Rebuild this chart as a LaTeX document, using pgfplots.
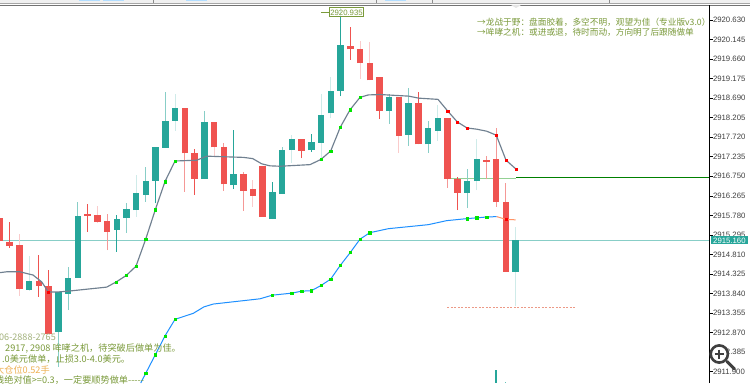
\documentclass[border=0pt]{standalone}
\usepackage{pgfplots}
\usepackage{pgfplotstable}
\usepackage{fontspec}
\pgfplotsset{compat=1.18}
\setmainfont{Liberation Sans}
\newfontfamily\cjk{Noto Sans CJK SC}
\definecolor{up}{HTML}{26A69A}
\definecolor{dn}{HTML}{EF5350}
\definecolor{oli}{HTML}{7A9A3A}
\definecolor{oli2}{HTML}{A3B27C}
\definecolor{org}{HTML}{EDB053}
\definecolor{lin}{HTML}{708090}
\definecolor{blu}{HTML}{1E90FF}
\pgfplotstableread{
i top bot hi lo w
3 2914.16 2913.93 2914.77 2913.91 3
6 2913.87 2912.89 2913.87 2912.02 2
7 2914.23 2913.83 2914.51 2913.43 2
8 2915.77 2914.23 2916.12 2914.23 2
12 2915.69 2915.42 2915.79 2914.88 1
13 2915.93 2915.71 2916.08 2915.35 2
14 2916.34 2915.91 2916.78 2915.75 3
15 2916.63 2916.29 2916.99 2916.12 2
16 2917.49 2916.64 2917.49 2916.08 1
17 2918.12 2917.46 2918.85 2917.46 2
18 2918.44 2918.13 2918.79 2917.88 3
21 2918.09 2916.68 2918.37 2916.68 2
24 2916.81 2916.53 2917.90 2916.43 1
28 2916.35 2915.69 2916.60 2915.69 1
29 2917.40 2916.31 2917.49 2916.31 2
30 2917.68 2917.40 2917.78 2917.09 3
32 2917.60 2917.40 2917.79 2917.36 1
33 2918.27 2917.58 2918.79 2917.16 3
34 2918.87 2918.31 2919.21 2918.19 3
35 2920.01 2918.87 2920.92 2918.74 1
40 2918.71 2918.37 2918.79 2918.05 2
42 2918.56 2917.78 2918.93 2917.51 2
44 2917.94 2917.54 2918.13 2917.34 2
45 2918.20 2917.88 2918.51 2917.63 3
48 2916.63 2916.34 2916.92 2915.96 2
49 2917.18 2916.63 2917.67 2916.41 3
53 2915.16 2914.38 2915.50 2913.53 3
}\tealtable
\pgfplotstableread{
i top bot hi lo w
0 2915.72 2915.15 2915.72 2915.15 1
1 2915.12 2915.02 2915.62 2914.98 1
2 2915.05 2913.95 2915.32 2913.78 3
4 2914.15 2914.04 2914.80 2913.76 1
5 2914.03 2912.84 2914.43 2912.84 1
9 2915.81 2915.77 2916.06 2915.38 1
10 2915.79 2915.62 2916.01 2915.59 3
11 2915.63 2915.38 2915.81 2914.92 2
19 2918.45 2917.32 2918.45 2916.37 2
20 2917.34 2916.68 2917.42 2916.29 1
22 2918.09 2917.47 2918.09 2917.24 3
23 2917.49 2916.55 2917.57 2916.39 2
25 2916.81 2916.39 2916.86 2915.90 2
26 2916.44 2916.27 2916.66 2916.00 3
27 2917.01 2915.75 2917.01 2915.75 1
31 2917.67 2917.38 2917.67 2917.20 1
36 2919.99 2919.90 2920.45 2919.64 1
37 2919.91 2919.56 2920.10 2919.17 3
38 2919.56 2919.13 2920.08 2919.13 3
39 2919.21 2918.38 2919.21 2918.17 1
41 2918.73 2917.76 2918.73 2917.34 3
43 2918.56 2917.54 2918.84 2917.54 1
46 2918.20 2916.68 2918.20 2916.47 2
47 2916.68 2916.34 2916.73 2915.91 1
50 2917.16 2917.11 2917.25 2916.68 2
51 2917.18 2916.11 2917.94 2916.00 2
52 2916.11 2914.38 2916.58 2914.38 2
}\redtable
\pgfplotstableread{
x y
0 2914.36
6.7 2914.38
20 2914.38
33 2914.30
41.7 2914.13
48.3 2913.88
58 2913.88
68.3 2913.90
106.7 2914.00
116.3 2914.13
126.3 2914.29
136 2914.52
145.7 2915.19
155.3 2915.92
165 2916.62
175 2917.13
196.7 2917.15
206.7 2917.25
243.3 2917.22
252.7 2917.19
261.7 2917.06
270 2917.01
280 2917.00
310 2917.04
321 2917.17
330.7 2917.38
340.3 2917.97
350 2918.40
360 2918.71
368.3 2918.77
380 2918.78
408.7 2918.74
418.7 2918.69
438 2918.66
447.7 2918.37
457.3 2918.10
467 2917.95
476.7 2917.92
486.7 2917.87
496.3 2917.77
506 2917.15
516 2916.93
}\graytable
\pgfplotstableread{
x y
140.7 2911.62
145.7 2911.86
155.3 2912.32
165 2912.79
175 2913.20
193.3 2913.35
204 2913.51
213.3 2913.58
260 2913.71
272.3 2913.80
291.7 2913.85
301.7 2913.90
311.3 2913.91
321 2914.04
330.7 2914.20
340.3 2914.54
350.3 2914.86
360 2915.19
369.7 2915.35
388.3 2915.45
428.3 2915.55
446.7 2915.65
467 2915.70
476.7 2915.72
486.7 2915.74
496.7 2915.75
}\bluetable
\newcommand\wicks[3]{\addplot[draw=none,forget plot,mark=none,
  error bars/.cd,y dir=plus,y explicit,error mark=none,
  error bar style={line width=1bp,color=#2}]
  table[x expr={\thisrow{w}==#3 ? \thisrow{i}*9.73 : nan},y=lo,y error expr=\thisrow{hi}-\thisrow{lo}]{#1};}
\newcommand\bodies[2]{\addplot[draw=none,forget plot,mark=none,
  error bars/.cd,y dir=plus,y explicit,error mark=none,
  error bar style={line width=6.5bp,color=#2}]
  table[x expr={\thisrow{i}*9.73},y=bot,y error expr=\thisrow{top}-\thisrow{bot}]{#1};}
\begin{document}
\begin{tikzpicture}[x=1bp,y=1bp]
\path[use as bounding box] (0,0) rectangle (750,383);
\fill[white] (0,0) rectangle (750,383);
% window strip
\fill[black!6] (0,380) rectangle (750,383);
\fill[black!35] (0,379.6) rectangle (750,380.2);
\fill[black!55] (0,377.6) rectangle (750,378.4);
\foreach \a/\b in {79/100,103/124,186/207,385/406}{\fill[blue!45!cyan!30] (\a,382) rectangle (\b,383);}
\foreach \a in {153,376,432,609}{\fill[black!45] (\a,380) rectangle (\a+.8,383);}
\fill[black!10] (511,378) -- (521,378) -- (516,375) -- cycle;
\begin{axis}[at={(0,0)},anchor=south west,scale only axis,width=709.5bp,height=378bp,
  xmin=0,xmax=709.5,ymin=2911.62,ymax=2921.002,clip=false,
  axis lines=none,
  ]
% level lines
\addplot[color=up!55,line width=1bp] coordinates {(0,2915.16) (709.5,2915.16)};
\addplot[color=green!40!gray!60,line width=1bp] coordinates {(447,2916.70) (516,2916.70)};
\addplot[color=green!50!black,line width=1.1bp] coordinates {(516,2916.72) (709.5,2916.72)};
\addplot[color=brown!55!red!55,line width=.8bp,dash pattern=on 2bp off 1.5bp] coordinates {(447.3,2913.50) (576.7,2913.50)};
\addplot[color=oli,line width=.8bp] coordinates {(321,2920.82) (329.3,2920.82)};
% candles
\wicks{\tealtable}{up}{1}
\wicks{\tealtable}{up!55}{2}
\wicks{\tealtable}{up!22}{3}
\wicks{\redtable}{dn}{1}
\wicks{\redtable}{dn!60}{2}
\wicks{\redtable}{dn!30}{3}
\bodies{\tealtable}{up}
\bodies{\redtable}{dn}
\addplot[color=up,line width=1.6bp] coordinates {(496,2911.94) (496,2911.62)};
\addplot[color=up!70,line width=1bp] coordinates {(505.7,2911.64) (505.7,2911.62)};
% lines
\addplot[color=lin,line width=1.15bp] table[x=x,y=y]{\graytable};
\addplot[color=blu,line width=1bp] table[x=x,y=y]{\bluetable};
\addplot[color=orange!60!red!60,line width=1bp] coordinates {(496.7,2915.75) (506,2915.68) (515.7,2915.67)};
% signal points
\addplot[only marks,mark=square*,mark size=1.15bp,color=green!90!black,mark options={draw=none}] coordinates {
(116.3,2914.13)(126.3,2914.29)(136,2914.52)(145.7,2915.19)(155.3,2915.92)(165,2916.62)(175,2917.13)
(321,2917.17)(330.7,2917.38)(340.3,2917.97)(350,2918.40)(360,2918.71)
(145.7,2911.86)(155.3,2912.32)(165,2912.79)(175,2913.20)
(272.3,2913.80)(291.7,2913.85)(301.7,2913.90)(311.3,2913.91)(321,2914.04)(330.7,2914.20)(340.3,2914.54)(350.3,2914.86)(360,2915.19)(369.7,2915.35)
(467,2915.70)(476.7,2915.72)(486.7,2915.74)};
\addplot[only marks,mark=square*,mark size=1.15bp,color=red,mark options={draw=none}] coordinates {
(48.3,2913.88)(447.7,2918.37)(457.3,2918.10)(467,2917.95)(496.3,2917.77)(506,2917.15)(516,2916.93)(506,2915.68)};
% price scale
\draw[black,line width=1bp] (axis cs:709.5,2911.62) -- (axis cs:709.5,2921.002);
\pgfplotsinvokeforeach{2920.630,2920.145,2919.660,2919.175,2918.690,2918.205,2917.720,2917.235,2916.750,2916.265,2915.780,2915.295,2914.810,2914.325,2913.840,2913.355,2912.870,2912.385,2911.900}{
  \draw[black,line width=.7bp] (axis cs:709.5,#1) -- (axis cs:713,#1);
  \node[anchor=west,inner sep=0pt,font=\fontsize{7.8}{8}\selectfont,text=black!75] at (axis cs:712.8,#1) {#1};
}
\fill[up] (axis cs:711,2915.26) rectangle (axis cs:747.7,2915.07);
\node[anchor=west,inner sep=0pt,font=\fontsize{7.8}{8}\selectfont,text=white] at (axis cs:713,2915.16) {2915.160};
\node[draw=oli,line width=.7bp,fill=white,fill opacity=.85,text opacity=1,minimum width=34.4bp,minimum height=9bp,inner sep=0pt,font=\fontsize{7.8}{8}\selectfont,text=oli] at (axis cs:346.5,2920.82) {2920.935};
\end{axis}
% texts
\begin{scope}[shift={(0,383)},y=-1bp,every node/.style={anchor=west,inner sep=0pt,font=\cjk\fontsize{8.7}{9}\selectfont}]
\node[text=oli] at (477,22) {→龙战于野：盘面胶着，多空不明，观望为佳（专业版v3.0）};
\node[text=oli] at (477,32) {→哞哮之机：或进或退，待时而动，方向明了后跟随做单};
\node[text=oli2,font=\cjk\fontsize{9.1}{9}\selectfont] at (-1,337) {06-2888-2765};
\node[text=oli,font=\cjk\fontsize{9.2}{9}\selectfont] at (5,348) {2917, 2908 哞哮之机，待突破后做单为佳。};
\node[text=oli,font=\cjk\fontsize{9.2}{9}\selectfont] at (2,359) {.0美元做单，止损3.0-4.0美元。};
\node[text=org,font=\cjk\fontsize{9.2}{9}\selectfont] at (-5,370) {大仓位0.52手};
\node[text=oli,font=\cjk\fontsize{9.2}{9}\selectfont] at (-5,380) {线绝对值>=0.3，一定要顺势做单-----};
% zoom icon
\draw[black!75,line width=3bp,line cap=round] (727,361.5) -- (734.5,369);
\draw[black!75,fill=white,line width=2.6bp] (719.3,354) circle (8.6);
\draw[black!75,line width=2bp] (714.8,354) -- (723.8,354) (719.3,349.5) -- (719.3,358.5);
\end{scope}
\end{tikzpicture}
\end{document}
